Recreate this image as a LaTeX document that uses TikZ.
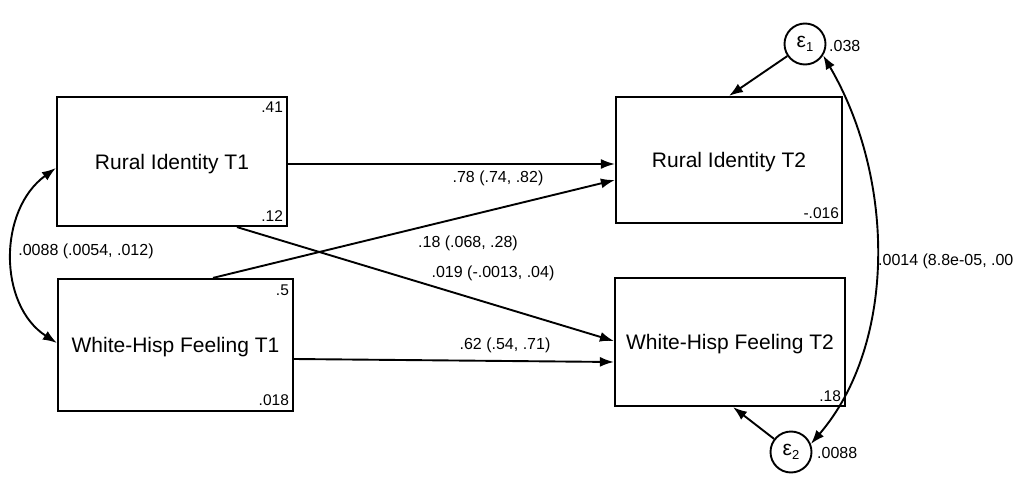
\documentclass[tikz,border=0pt]{standalone}
\usepackage{fontspec}
\setmainfont{Liberation Sans}
\usetikzlibrary{arrows.meta}
\begin{document}
\begin{tikzpicture}[x=1pt,y=-1pt,
  box/.style={draw, line width=2.2pt, inner sep=0pt, text height=15pt, text depth=0pt, font=\fontsize{21}{25}\selectfont},
  err/.style={draw, circle, line width=1.9pt, minimum size=41pt, inner sep=0pt, font=\fontsize{21}{24}\selectfont},
  tip/.tip={Latex[length=14pt,width=10pt]},
  pth/.style={line width=1.9pt, -tip},
  cov/.style={line width=1.9pt, tip-tip},
  lab/.style={font=\fontsize{16}{19}\selectfont, inner sep=0pt},
  corner/.style={font=\fontsize{15.5}{18}\selectfont, inner sep=0pt, anchor=base east}]
\useasboundingbox (0,0) rectangle (1018,495);
\fill[white] (0,0) rectangle (1018,495);

% boxes
\node[box, minimum width=230pt, minimum height=129pt] (A) at (172,161.5) {Rural Identity T1};
\node[box, minimum width=235pt, minimum height=132pt] (B) at (175.5,345) {White-Hisp Feeling T1};
\node[box, minimum width=226pt, minimum height=126pt] (C) at (729,160) {Rural Identity T2};
\node[box, minimum width=230pt, minimum height=128pt] (D) at (730,342) {White-Hisp Feeling T2};

% corner values
\node[corner] (a1) at ([xshift=-5pt,yshift=-17pt]A.north east) {.41};
\node[corner] (a2) at ([xshift=-5pt,yshift=6pt]A.south east) {.12};
\node[corner] (b1) at ([xshift=-5pt,yshift=-18pt]B.north east) {.5};
\node[corner] (b2) at ([xshift=-5pt,yshift=6.5pt]B.south east) {.018};
\node[corner] (c2) at ([xshift=-4pt,yshift=5.5pt]C.south east) {-.016};
\node[corner] (d2) at ([xshift=-5pt,yshift=5.5pt]D.south east) {.18};

% error terms
\node[err] (e1) at (805,44) {ε\raisebox{-0.35ex}{\fontsize{13}{15}\selectfont 1}};
\node[err] (e2) at (791,452) {ε\raisebox{-0.35ex}{\fontsize{13}{15}\selectfont 2}};
\node[lab, anchor=west] (e1v) at (829,45.7) {.038};
\node[lab, anchor=west] (e2v) at (817,452.7) {.0088};

% paths
\draw[pth] ([yshift=-2.5pt]A.east) -- ([yshift=-2.5pt]A.east -| C.west);
\draw[pth] ([xshift=37.5pt]B.north) -- ([yshift=-20pt]C.west);
\draw[pth] ([xshift=65pt]A.south) -- ([yshift=1pt]D.west);
\draw[pth] ([yshift=-14pt]B.east) -- ([yshift=-20pt]D.west);
\draw[pth] (e1) -- (C.north);
\draw[pth] (e2) -- ([xshift=3pt]D.south);

% covariances
\draw[cov] ([yshift=-6.5pt]A.west) .. controls (-2,210) and (-2,305) .. ([yshift=2pt]B.west);
\draw[cov] (e1.-32) .. controls (896,180) and (896,345) .. (e2.22);

% labels
\node[lab] (l1) at (498,178.3) {.78 (.74, .82)};
\node[lab] (l2) at (468,243) {.18 (.068, .28)};
\node[lab] (l3) at (493,273) {.019 (-.0013, .04)};
\node[lab] (l4) at (505,345) {.62 (.54, .71)};
\node[lab] (l5) at (86,251.7) {.0088 (.0054, .012)};
\node[lab, anchor=west] (l6) at (878,261) {.0014 (8.8e-05, .00};
\end{tikzpicture}
\end{document}
